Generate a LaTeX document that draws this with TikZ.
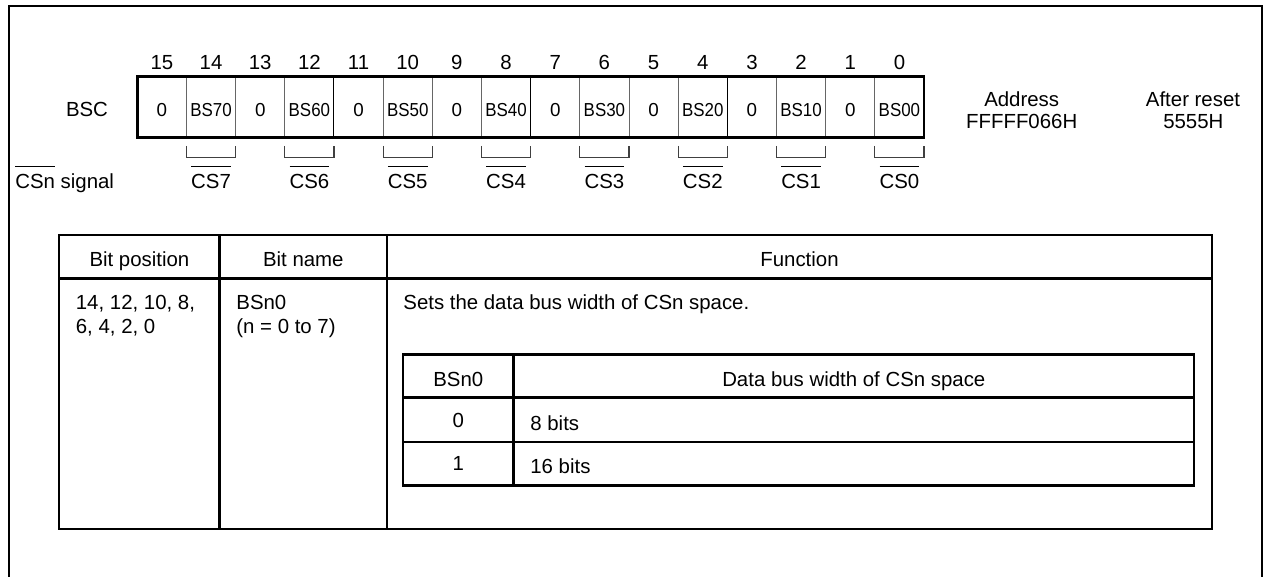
\documentclass[tikz,border=0pt]{standalone}
\usepackage{fontspec}
\setmainfont{Liberation Sans}
\usepackage{graphicx}
\newcommand\ovbar[1]{\setbox0\hbox{#1}\rlap{\rule[10.5pt]{\wd0}{0.55pt}}\box0\relax}
\newcommand\cond[1]{\scalebox{0.9}[1]{#1}}
\begin{document}
\begin{tikzpicture}[x=0.5pt,y=-0.5pt,
  lbl/.style={inner sep=0pt, anchor=base, font=\fontsize{10.2}{12}\selectfont},
  lblw/.style={lbl, anchor=base west},
  cellt/.style={inner sep=0pt, anchor=base, font=\fontsize{9.4}{11}\selectfont},
  frameln/.style={line width=1.2pt},
  boxln/.style={line width=1.3pt},
  sepln/.style={line width=0.5pt},
  brk/.style={line width=0.55pt, black!75},
  tabln/.style={line width=1.3pt},
  rowln/.style={line width=1pt}]
\useasboundingbox (0,0) rectangle (1264,577);
% outer frame (open at bottom)
\draw[frameln] (9,577) -- (9,6) -- (1262,6) -- (1262,577);

% register
\node[lbl] (bsc) at (87,117) {BSC};
\foreach \k in {0,...,15} {
  \pgfmathtruncatemacro\bit{15-\k}
  \pgfmathsetmacro\cx{137.3+(\k+0.5)*49.17}
  \node[lbl] (n\bit) at (\cx,69.3) {\bit};
  \pgfmathtruncatemacro\odd{mod(\bit,2)}
  \ifnum\odd=1
    \node[cellt] (c\bit) at (\cx,117) {0};
  \else
    \pgfmathtruncatemacro\nn{\bit/2}
    \node[cellt] (c\bit) at (\cx,117) {\cond{BS\nn0}};
    \pgfmathsetmacro\xl{137.3+\k*49.17}
    \pgfmathsetmacro\xr{137.3+(\k+1)*49.17}
    \draw[brk] (\xl,146) -- (\xl,157.7) -- (\xr,157.7) -- (\xr,146);
    \node[lbl] (cs\nn) at (\cx,188.3) {\ovbar{CS\nn}};
  \fi
}
\foreach \k in {1,...,15} {
  \pgfmathsetmacro\xs{137.3+\k*49.17}
  \pgfmathtruncatemacro\nib{mod(\k,4)}
  \ifnum\nib=0
    \draw[sepln, black] (\xs,76.7) -- (\xs,137.3);
  \else
    \draw[sepln, black!60] (\xs,76.7) -- (\xs,137.3);
  \fi
}
\draw[boxln] (137.3,76.7) rectangle (924.0,137.3);

\node[lblw] (cssig) at (15,188.3) {\ovbar{CSn} signal};

\node[lbl] (addr) at (1021.7,106.7) {Address};
\node[lbl] (addrv) at (1021.7,128.3) {FFFFF066H};
\node[lbl] (rst) at (1193,106.7) {After reset};
\node[lbl] (rstv) at (1193.3,128.3) {5555H};

% main table
\draw[tabln] (59,235) rectangle (1212,529);
\draw[tabln] (59,278.3) -- (1212,278.3);
\draw[tabln] (219.6,235) -- (219.6,529);
\draw[tabln] (387,235) -- (387,529);

\node[lbl] (hpos) at (139.4,266.7) {Bit position};
\node[lbl] (hname) at (303.3,266.7) {Bit name};
\node[lbl] (hfunc) at (799.5,266.7) {Function};

\node[lblw] (pos1) at (75.5,310) {14, 12, 10, 8,};
\node[lblw] (pos2) at (75.5,334) {6, 4, 2, 0};
\node[lblw] (nm1) at (236,310) {BSn0};
\node[lblw] (nm2) at (236,334) {(n = 0 to 7)};
\node[lblw] (fn) at (403,310) {Sets the data bus width of CSn space.};

% inner table
\draw[tabln] (403,354.3) rectangle (1194,485.7);
\draw[tabln] (403,397.7) -- (1194,397.7);
\draw[rowln] (403,441.7) -- (1194,441.7);
\draw[tabln] (513.5,354.3) -- (513.5,485.7);

\node[lbl] (ih1) at (458.3,386.7) {BSn0};
\node[lbl] (ih2) at (853.8,386.7) {Data bus width of CSn space};
\node[lbl] (iv0) at (458.3,427.5) {0};
\node[lblw] (iw0) at (530,430) {8 bits};
\node[lbl] (iv1) at (458.3,470) {1};
\node[lblw] (iw1) at (530,473) {16 bits};
\end{tikzpicture}
\end{document}
